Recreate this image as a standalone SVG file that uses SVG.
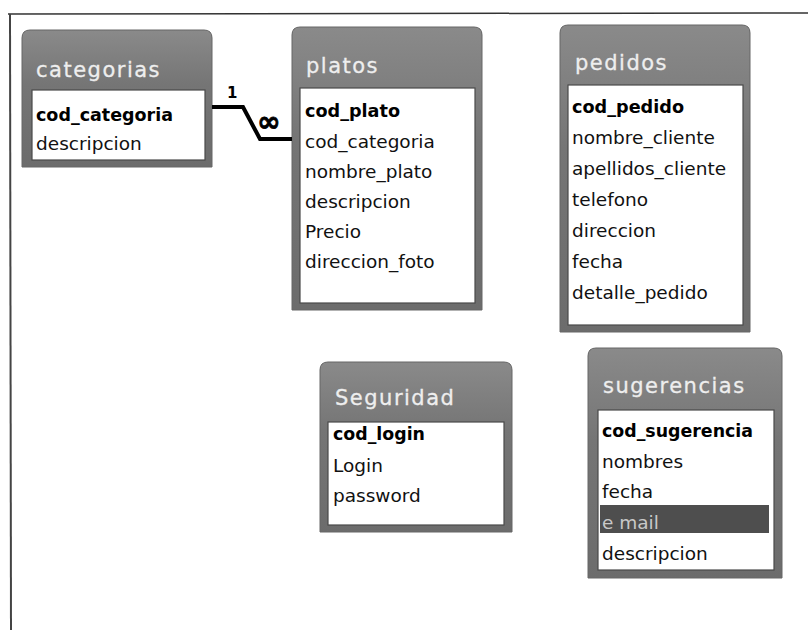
<svg xmlns="http://www.w3.org/2000/svg" width="808" height="630" viewBox="0 0 808 630">
<defs>
<linearGradient id="hdr" x1="0" y1="0" x2="0" y2="1">
<stop offset="0" stop-color="#8a8a8a"/>
<stop offset="0.4" stop-color="#757575"/>
<stop offset="1" stop-color="#6c6c6c"/>
</linearGradient>
</defs>
<style>
.tbl{fill:url(#hdr);stroke:#666;stroke-width:1}
.body{fill:#fff;stroke:#4a4a4a;stroke-width:1.2}
.title{font-family:"DejaVu Sans",sans-serif;font-size:21px;fill:#eeeeee;letter-spacing:1.5px;stroke:#eeeeee;stroke-width:0.3}
.f{font-family:"DejaVu Sans",sans-serif;font-size:18.5px;fill:#111}
.k{font-family:"DejaVu Sans",sans-serif;font-size:18.5px;font-weight:bold;fill:#000}
.lbl{font-family:"DejaVu Sans",sans-serif;font-weight:bold;fill:#000}
.conn{fill:none;stroke:#000;stroke-width:4}
</style>
<rect x="0" y="0" width="808" height="630" fill="#fff"/>
<g id="frame">
<line x1="8" y1="14" x2="808" y2="13" stroke="#333" stroke-width="1.5"/>
<line x1="10" y1="14" x2="11" y2="630" stroke="#444" stroke-width="2"/>
</g>
<g id="categorias">
<path class="tbl" d="M22,38 Q22,30 30,30 H204 Q212,30 212,38 V167 H22 Z"/>
<rect class="body" x="32" y="90" width="173" height="70"/>
<text class="title" x="36" y="77">categorias</text>
<text class="k" x="36" y="121" textLength="137" lengthAdjust="spacingAndGlyphs">cod_categoria</text>
<text class="f" x="36" y="150">descripcion</text>
</g>
<g id="platos">
<path class="tbl" d="M292,35 Q292,27 300,27 H474 Q482,27 482,35 V310 H292 Z"/>
<rect class="body" x="300" y="88" width="175" height="215"/>
<text class="title" x="306" y="73">platos</text>
<text class="k" x="305" y="117" textLength="95" lengthAdjust="spacingAndGlyphs">cod_plato</text>
<text class="f" x="305" y="148">cod_categoria</text>
<text class="f" x="305" y="178">nombre_plato</text>
<text class="f" x="305" y="208">descripcion</text>
<text class="f" x="305" y="238">Precio</text>
<text class="f" x="305" y="268">direccion_foto</text>
</g>
<g id="pedidos">
<path class="tbl" d="M560,33 Q560,25 568,25 H742 Q750,25 750,33 V332 H560 Z"/>
<rect class="body" x="568" y="85" width="175" height="240"/>
<text class="title" x="575" y="70">pedidos</text>
<text class="k" x="572" y="113" textLength="112" lengthAdjust="spacingAndGlyphs">cod_pedido</text>
<text class="f" x="572" y="144">nombre_cliente</text>
<text class="f" x="572" y="175">apellidos_cliente</text>
<text class="f" x="572" y="206">telefono</text>
<text class="f" x="572" y="237">direccion</text>
<text class="f" x="572" y="268">fecha</text>
<text class="f" x="572" y="299">detalle_pedido</text>
</g>
<g id="Seguridad">
<path class="tbl" d="M320,370 Q320,362 328,362 H504 Q512,362 512,370 V532 H320 Z"/>
<rect class="body" x="328" y="422" width="176" height="103"/>
<text class="title" x="335" y="405">Seguridad</text>
<text class="k" x="333" y="440" textLength="92" lengthAdjust="spacingAndGlyphs">cod_login</text>
<text class="f" x="333" y="472">Login</text>
<text class="f" x="333" y="502">password</text>
</g>
<g id="sugerencias">
<path class="tbl" d="M588,356 Q588,348 596,348 H774 Q782,348 782,356 V578 H588 Z"/>
<rect class="body" x="598" y="410" width="176" height="160"/>
<text class="title" x="603" y="393">sugerencias</text>
<text class="k" x="602" y="437" textLength="151" lengthAdjust="spacingAndGlyphs">cod_sugerencia</text>
<text class="f" x="602" y="468">nombres</text>
<text class="f" x="602" y="498">fecha</text>
<rect x="600" y="505" width="169" height="28" fill="#4e4e4e"/>
<text class="f" x="602" y="529" style="fill:#c8c8c8">e mail</text>
<text class="f" x="602" y="560">descripcion</text>
</g>
<g id="connectors">
<path class="conn" d="M212,107 H243 L260,139 H292"/>
<text class="lbl" x="227" y="98" font-size="15">1</text>
<text class="lbl" x="257" y="131" font-size="28" stroke="#000" stroke-width="0.8">∞</text>
</g>
</svg>
